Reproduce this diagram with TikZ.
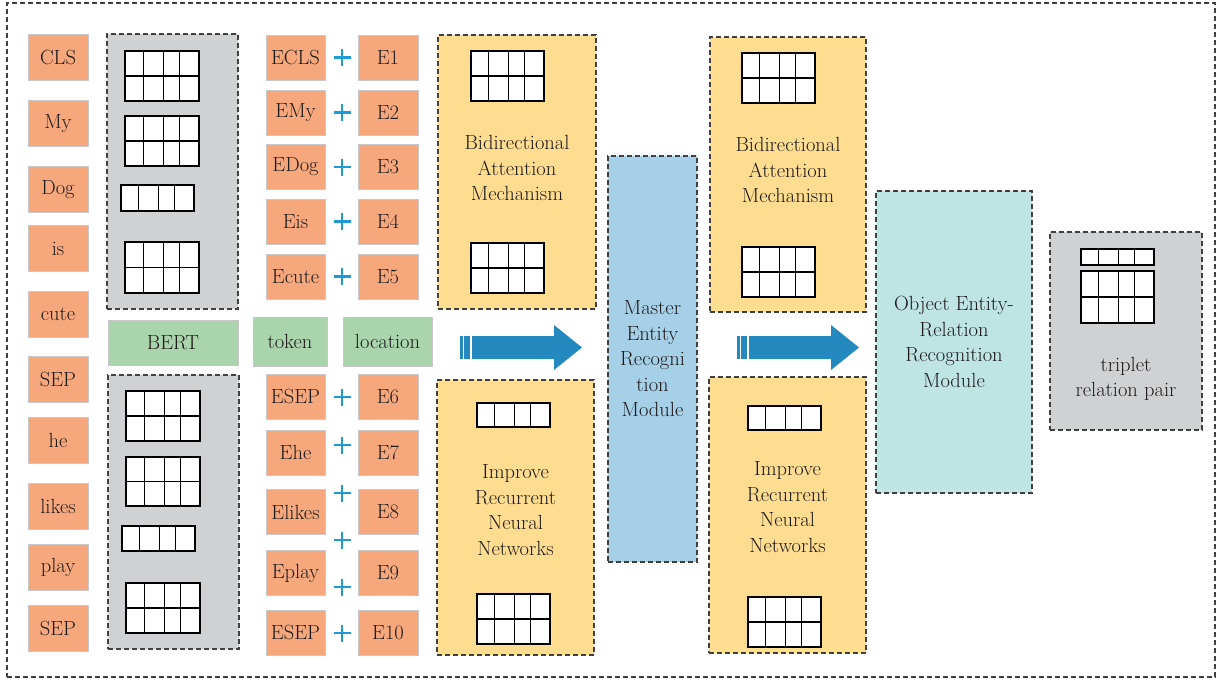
\documentclass[tikz,border=0pt]{standalone}
\usepackage{tikz}

\definecolor{ink}{RGB}{30,27,28}
\definecolor{tokfill}{RGB}{246,168,124}
\definecolor{grnfill}{RGB}{170,212,172}
\definecolor{greyfill}{RGB}{208,209,210}
\definecolor{yelfill}{RGB}{254,220,144}
\definecolor{bluefill}{RGB}{166,208,232}
\definecolor{tealfill}{RGB}{190,228,228}
\definecolor{edgegrey}{RGB}{200,200,200}
\definecolor{dashgrey}{RGB}{64,64,64}
\definecolor{plusblue}{RGB}{30,155,215}
\definecolor{arrowblue}{RGB}{35,137,190}

\newcommand\lbl{\fontsize{20.5}{25.5}\selectfont}

% small matrix of cells: corners (#1,#2)-(#3,#4), #5 rows, 4 columns
\newcommand\cellgrid[5]{%
  \fill[white] (#1,#2) rectangle (#3,#4);
  \foreach \f in {0.245,0.518,0.732}{\draw[cell] ({#1+\f*(#3-#1)},#2) -- ({#1+\f*(#3-#1)},#4);}
  \ifnum#5>1 \foreach \r in {2,...,#5}{\draw[cell] (#1,{#2+(\r-1)*(#4-#2)/#5}) -- (#3,{#2+(\r-1)*(#4-#2)/#5});}\fi
  \draw[cell] (#1,#2) rectangle (#3,#4);
}

% block arrow with two thin stripes at its tail
\newcommand\blockarrow[6]{% tail x, head base x, tip x, shaft top, shaft bottom, head half-height
  \fill[arrowblue] ({#1+12},#4) -- (#2,#4) -- (#2,{(#4+#5)/2-#6}) -- (#3,{(#4+#5)/2})
     -- (#2,{(#4+#5)/2+#6}) -- (#2,#5) -- ({#1+12},#5) -- cycle;
  \fill[arrowblue] (#1,#4) rectangle ({#1+2.6},#5);
  \fill[arrowblue] ({#1+4},#4) rectangle ({#1+10},#5);
}

\begin{document}
\begin{tikzpicture}[x=1pt,y=-1pt,
  cell/.style={draw=black,line width=1.2pt},
  solidbox/.style={draw=edgegrey,line width=1pt,inner sep=0pt,text=ink,font=\lbl},
  tokbox/.style={solidbox,fill=tokfill},
  grnbox/.style={solidbox,fill=grnfill},
  dashbox/.style={draw=dashgrey,line width=1.1pt,dash pattern=on 5pt off 3pt,inner sep=0pt,text=ink,font=\lbl,align=center},
  txt/.style={text=ink,font=\lbl,align=center,inner sep=0pt},
  plusmark/.style={draw=plusblue,line width=2.8pt}]

\useasboundingbox (0,0) rectangle (1221,680);

% outer frame
\node[dashbox,minimum width=1208,minimum height=674] (frame) at (611,340) {};

% input tokens
\node[tokbox,minimum width=60,minimum height=46] (t1)  at (58,57)    {CLS};
\node[tokbox,minimum width=60,minimum height=46] (t2)  at (58,123.5) {My};
\node[tokbox,minimum width=60,minimum height=46] (t3)  at (58,189.5) {Dog};
\node[tokbox,minimum width=60,minimum height=46] (t4)  at (58,248.5) {is};
\node[tokbox,minimum width=60,minimum height=46] (t5)  at (58,314)   {cute};
\node[tokbox,minimum width=60,minimum height=46] (t6)  at (58,379.5) {SEP};
\node[tokbox,minimum width=60,minimum height=46] (t7)  at (58,440)   {he};
\node[tokbox,minimum width=60,minimum height=46] (t8)  at (58,506)   {likes};
\node[tokbox,minimum width=60,minimum height=46] (t9)  at (58,567)   {play};
\node[tokbox,minimum width=60,minimum height=46] (t10) at (58,628)   {SEP};

% BERT blocks
\node[dashbox,fill=greyfill,minimum width=131,minimum height=275] (bertA) at (172.5,171.5) {};
\node[dashbox,fill=greyfill,minimum width=131,minimum height=274] (bertB) at (173.5,512) {};
\cellgrid{125}{51}{199}{101}{2}
\cellgrid{125}{116}{199}{166}{2}
\cellgrid{121}{185}{194}{211}{1}
\cellgrid{125}{242}{199}{293}{2}
\cellgrid{126}{391}{200}{441}{2}
\cellgrid{126}{457}{200}{506}{2}
\cellgrid{122}{526}{195}{551}{1}
\cellgrid{126}{583}{200}{633}{2}

\node[grnbox,minimum width=130,minimum height=45] (bert) at (173,342.5) {BERT};
\node[grnbox,minimum width=74,minimum height=49] (token) at (290,341.5) {token};
\node[grnbox,minimum width=89,minimum height=49] (loc) at (387.5,341.5) {location};

% token and position embeddings
\foreach \n/\w/\y in {1/ECLS/57.5,2/EMy/112.5,3/EDog/167,4/Eis/221.5,5/Ecute/276.5,
                      6/ESEP/396.5,7/Ehe/452.5,8/Elikes/512,9/Eplay/573,10/ESEP/632.5}{
  \node[tokbox,minimum width=59,minimum height=45] (e\n) at (295.5,\y) {\w};
  \node[tokbox,minimum width=60,minimum height=45] (p\n) at (388,\y) {E\n};
}
\foreach \y in {57.5,112.5,167,221.5,276.5,397,445,493,540,587,633}{
  \draw[plusmark] (333.5,\y) -- (350.5,\y) (342,\y-8.5) -- (342,\y+8.5);
}

% first stage
\node[dashbox,fill=yelfill,minimum width=158,minimum height=274] (attA) at (517,172) {};
\cellgrid{471}{51}{544}{101}{2}
\cellgrid{471}{243}{544}{293}{2}
\node[txt] (attAtxt) at (517,168) {Bidirectional\\Attention\\Mechanism};

\node[dashbox,fill=yelfill,minimum width=157,minimum height=275] (rnnA) at (515.5,517.5) {};
\cellgrid{477}{403}{550}{427}{1}
\cellgrid{477}{594}{550}{644}{2}
\node[txt] (rnnAtxt) at (515.5,510) {Improve\\Recurrent\\Neural\\Networks};

\blockarrow{460}{554}{582}{336}{359}{22.5}

\node[dashbox,fill=bluefill,minimum width=89,minimum height=406] (master) at (652.5,359)
  {Master\\Entity\\Recogni\\tion\\Module};

% second stage
\node[dashbox,fill=yelfill,minimum width=156,minimum height=275] (attB) at (788,174.5) {};
\cellgrid{742}{53}{815}{103}{2}
\cellgrid{742}{247}{815}{297}{2}
\node[txt] (attBtxt) at (788,170) {Bidirectional\\Attention\\Mechanism};

\node[dashbox,fill=yelfill,minimum width=157,minimum height=276] (rnnB) at (787.5,515) {};
\cellgrid{748}{406}{821}{430}{1}
\cellgrid{748}{597}{821}{647}{2}
\node[txt] (rnnBtxt) at (787.5,507) {Improve\\Recurrent\\Neural\\Networks};

\blockarrow{737}{831}{859}{336}{359}{22.5}

\node[dashbox,fill=tealfill,minimum width=156,minimum height=302] (object) at (954,342)
  {Object Entity-\\Relation\\Recognition\\Module};

% output
\node[dashbox,fill=greyfill,minimum width=152,minimum height=198] (triplet) at (1126,331) {};
\cellgrid{1081}{249}{1154}{265}{1}
\cellgrid{1081}{271}{1154}{323}{2}
\node[txt] (triptxt) at (1126,379) {triplet\\relation pair};

\end{tikzpicture}
\end{document}
